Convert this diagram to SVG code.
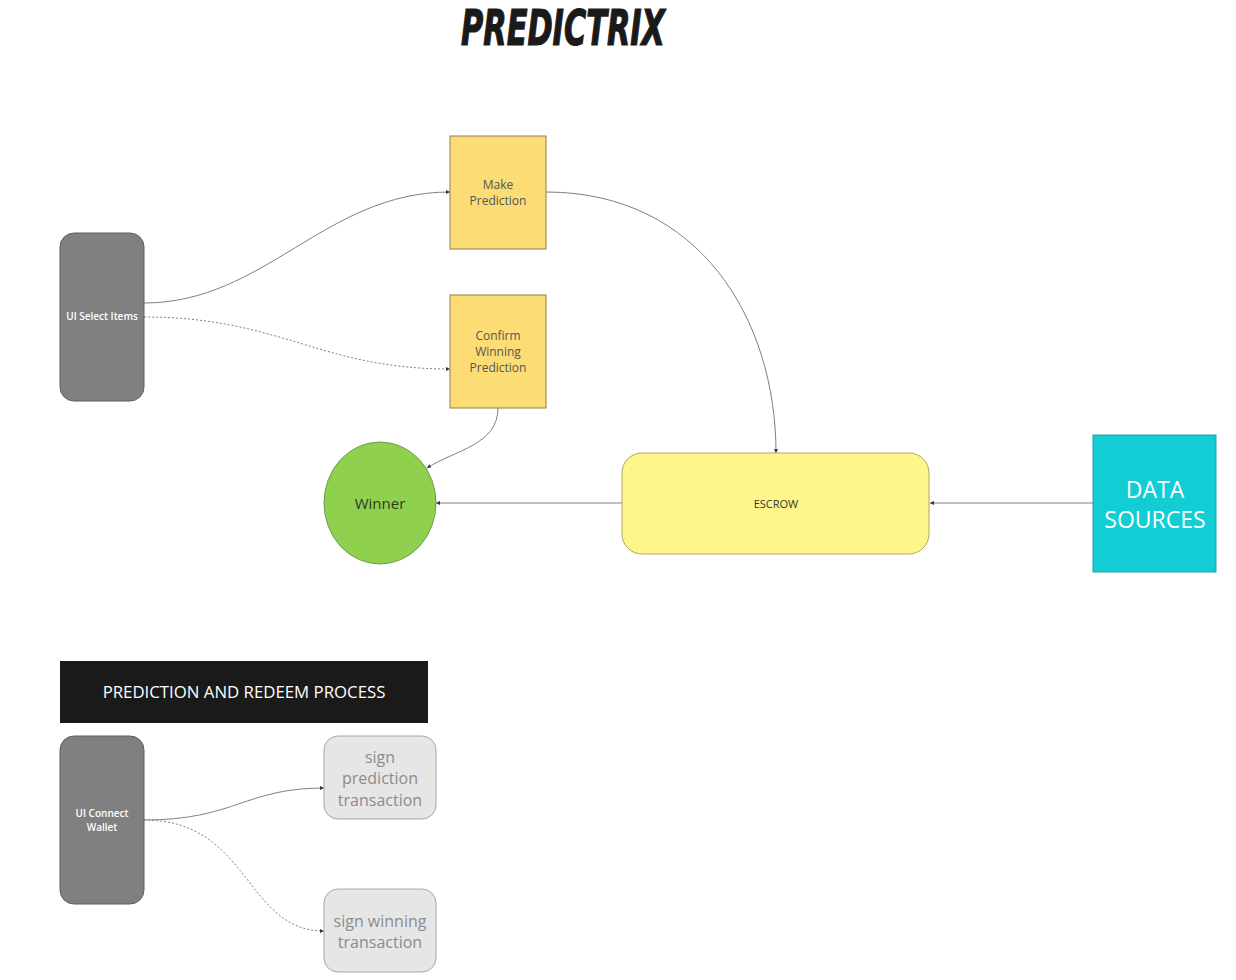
<svg xmlns="http://www.w3.org/2000/svg" width="1236" height="980" viewBox="0 0 1236 980">
<style>
  text { font-family: "Open Sans", "Noto Sans", "Liberation Sans", sans-serif; text-anchor: middle; }
  .title { font-family: "DejaVu Sans Condensed", "Liberation Sans", sans-serif; font-weight: bold; font-style: italic; font-size: 50px; fill: #1a1a1a; stroke: #1a1a1a; stroke-width: 1.2; }
  .ui { fill: #808080; stroke: #5e5e5e; stroke-width: 1; }
  .uit { fill: #ffffff; font-size: 10px; font-weight: 600; }
  .sticky { fill: #fcdc75; stroke: #8f7f4f; stroke-width: 1; }
  .stickyt { fill: #555; font-size: 12px; }
  .grey { fill: #e6e6e6; stroke: #a8a8a8; stroke-width: 1; }
  .greyt { fill: #8c8c8c; font-size: 16px; }
  .conn { fill: none; stroke: #808080; stroke-width: 1; marker-end: url(#arr); }
  .dot { stroke-dasharray: 2 2; }
</style>
<defs>
  <marker id="arr" viewBox="0 0 6 6" refX="6" refY="3" markerWidth="4" markerHeight="4" orient="auto" markerUnits="userSpaceOnUse">
    <path d="M0,0 L6,3 L0,6 z" fill="#333"/>
  </marker>
</defs>
<rect width="1236" height="980" fill="#ffffff"/>
<text class="title" x="563" y="45" textLength="204" lengthAdjust="spacingAndGlyphs">PREDICTRIX</text>

<g id="connectors">
  <path class="conn" d="M144,303 C265,303 325,192 450,192"/>
  <path class="conn dot" d="M144,317 C280,317 320,369 450,369"/>
  <path class="conn" d="M546,192 C700,192 776,320 776,453"/>
  <path class="conn" d="M498,408 C498,445 455,450 427,468"/>
  <path class="conn" d="M622,503 L436,503"/>
  <path class="conn" d="M1093,503 L930,503"/>
  <path class="conn" d="M144,820 C235,820 245,788 324,788"/>
  <path class="conn dot" d="M144,820 C250,820 245,931 324,931"/>
</g>

<g id="ui-select-items">
  <rect class="ui" x="60" y="233" width="84" height="168" rx="14"/>
  <text class="uit" x="102" y="320">UI Select Items</text>
</g>
<g id="make-prediction">
  <rect class="sticky" x="450" y="136" width="96" height="113"/>
  <text class="stickyt" x="498" y="189">Make</text>
  <text class="stickyt" x="498" y="205">Prediction</text>
</g>
<g id="confirm-winning">
  <rect class="sticky" x="450" y="295" width="96" height="113"/>
  <text class="stickyt" x="498" y="340">Confirm</text>
  <text class="stickyt" x="498" y="356">Winning</text>
  <text class="stickyt" x="498" y="372">Prediction</text>
</g>
<g id="winner">
  <ellipse cx="380" cy="503" rx="56" ry="61" fill="#8fd14f" stroke="#6f9a45" stroke-width="1"/>
  <text x="380" y="509" font-size="15" fill="#2d3a22">Winner</text>
</g>
<g id="escrow">
  <rect x="622" y="453" width="307" height="101" rx="20" fill="#fef68a" stroke="#b0a862" stroke-width="1"/>
  <text x="776" y="508" font-size="11" fill="#333">ESCROW</text>
</g>
<g id="data-sources">
  <rect x="1093" y="435" width="123" height="137" fill="#12cdd4" stroke="#23a0a6" stroke-width="1"/>
  <text x="1155" y="498" font-size="23" fill="#ffffff">DATA</text>
  <text x="1155" y="528" font-size="23" fill="#ffffff">SOURCES</text>
</g>
<g id="process-label">
  <rect x="60" y="661" width="368" height="62" fill="#1a1a1a"/>
  <text x="244" y="698" font-size="16.8" fill="#ffffff">PREDICTION AND REDEEM PROCESS</text>
</g>
<g id="ui-connect-wallet">
  <rect class="ui" x="60" y="736" width="84" height="168" rx="14"/>
  <text class="uit" x="102" y="817">UI Connect</text>
  <text class="uit" x="102" y="831">Wallet</text>
</g>
<g id="sign-prediction">
  <rect class="grey" x="324" y="736" width="112" height="83" rx="14"/>
  <text class="greyt" x="380" y="763">sign</text>
  <text class="greyt" x="380" y="784">prediction</text>
  <text class="greyt" x="380" y="806">transaction</text>
</g>
<g id="sign-winning">
  <rect class="grey" x="324" y="889" width="112" height="83" rx="14"/>
  <text class="greyt" x="380" y="927">sign winning</text>
  <text class="greyt" x="380" y="948">transaction</text>
</g>
</svg>
